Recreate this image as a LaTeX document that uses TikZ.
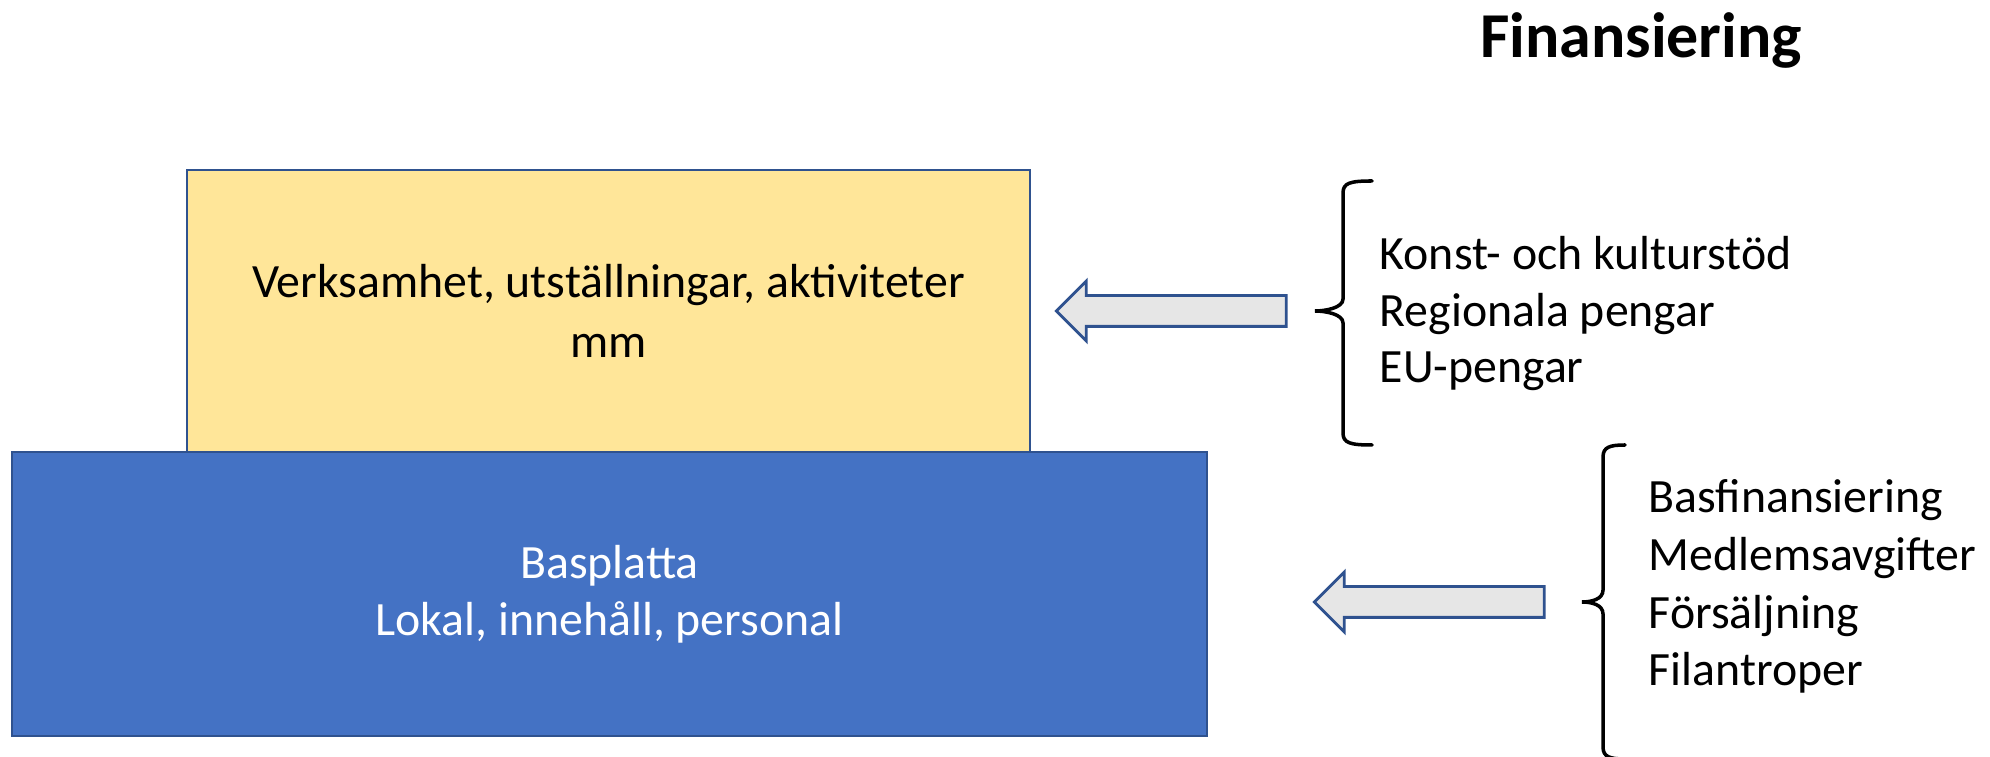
\documentclass[tikz,border=0pt]{standalone}
\usepackage{fontspec}
\setmainfont{Carlito}
\usepackage{tikz}
\usetikzlibrary{shapes.arrows, calc}

\definecolor{ramblue}{HTML}{2F528F}
\definecolor{boxyellow}{HTML}{FFE699}
\definecolor{boxblue}{HTML}{4472C4}
\definecolor{arrowgray}{HTML}{E6E6E6}

\tikzset{
    block/.style={draw=ramblue, line width=0.8pt, inner sep=0pt, align=center,
        font=\fontsize{13.6}{17.2}\selectfont},
    fillarrow/.style={single arrow, shape border rotate=180, draw=ramblue, fill=arrowgray,
        line width=0.8pt, inner sep=0.14cm, minimum height=2.30cm,
        single arrow head extend=0.145cm, single arrow tip angle=90},
    list/.style={anchor=base west, inner sep=0pt, align=left,
        font=\fontsize{13.6}{16.1}\selectfont},
    klammer/.style={line width=1pt, line cap=round},
}

\newcommand{\klammer}[6]{%
    \draw[klammer] (#3,#4) .. controls (#2+0.07,#4) and (#2,#4-0.02) .. (#2,#4-0.12)
        -- (#2,#5+0.12) .. controls (#2,#5+0.03) and (#1+0.10,#5) .. (#1,#5)
        .. controls (#1+0.10,#5) and (#2,#5-0.03) .. (#2,#5-0.12)
        -- (#2,#6+0.12) .. controls (#2,#6+0.02) and (#2+0.07,#6) .. (#3,#6);}

\begin{document}
\begin{tikzpicture}
    \useasboundingbox (0,0) rectangle (19.90,7.57);

    \node[block, fill=boxyellow, minimum width=8.43cm, minimum height=2.82cm] (verksamhet)
        at (6.085,4.46) {Verksamhet, utställningar, aktiviteter\\mm};
    \node[block, fill=boxblue, text=white, minimum width=11.95cm, minimum height=2.84cm,
        font=\fontsize{13.6}{16.2}\selectfont] (basplatta)
        at (6.095,1.63) {Basplatta\\Lokal, innehåll, personal};

    \node[fillarrow] (pil1) at (11.79,4.46) {};
    \node[fillarrow] (pil2) at (14.37,1.55) {};

    \klammer{13.15}{13.43}{13.72}{5.76}{4.46}{3.12}
    \klammer{15.82}{16.03}{16.25}{3.12}{1.55}{-0.02}

    \node[list] (stod) at (13.79,3.74)
        {Konst- och kulturstöd\\Regionala pengar\\EU-pengar};
    \node[list, font=\fontsize{13.6}{16.5}\selectfont] (bas) at (16.48,0.71)
        {Basfinansiering\\Medlemsavgifter\\Försäljning\\Filantroper};

    \node[anchor=base, inner sep=0pt, font=\fontsize{18.2}{22}\selectfont\bfseries] (titel)
        at (16.41,6.99) {Finansiering};
\end{tikzpicture}
\end{document}
